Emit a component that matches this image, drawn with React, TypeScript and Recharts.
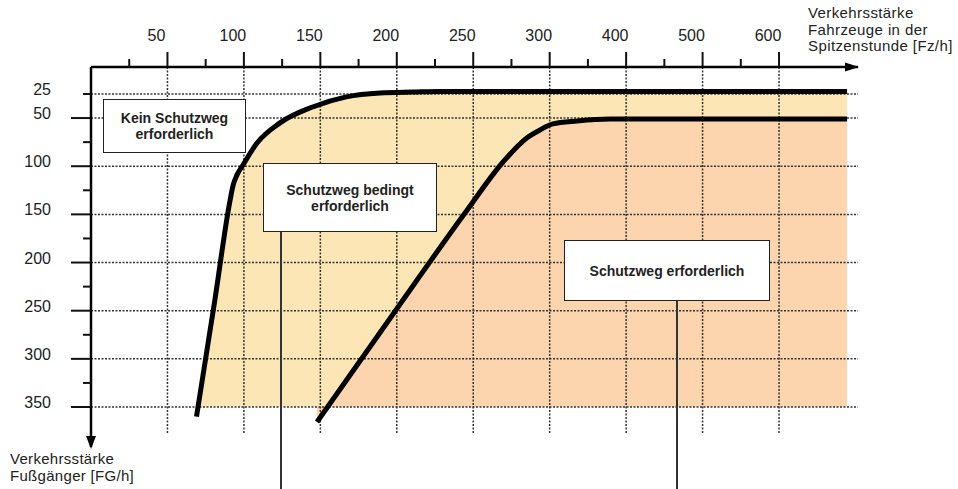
// Schutzweg-Diagramm: Einsatzgrenzen nach Fahrzeug- und Fußgängerverkehr (Recharts)
import { ComposedChart, Area, Line, XAxis, YAxis, ReferenceLine } from 'recharts';

// Achsbeschriftungen
const FZ_TICKS = [50, 100, 150, 200, 250, 300, 400, 500, 600];
const FZ_MINOR = [25, 75, 125, 175, 225, 275, 350, 450, 550];
const FG_TICKS = [25, 50, 75, 100, 125, 150, 175, 200, 225, 250, 275, 300, 325, 350];
const FG_GRID = [25, 50, 100, 150, 200, 250, 300, 350];

// Grenze "Kein Schutzweg" / "bedingt" (Fz/h, FG/h)
const grenze1Fz = [69, 81, 91, 93, 95.5, 99.4, 108.6, 123.6, 145, 167, 189, 211, 228, 689];
const grenze1Fg = [360, 239, 135, 119.5, 109, 98.7, 75.9, 55, 38.5, 28, 24, 23, 22.4, 22.4];

// Grenze "bedingt" / "erforderlich"
const grenze2Fz = [147.8, 196, 244.6, 269.5, 285, 293.6, 304, 336, 379, 689];
const grenze2Fg = [365.6, 257, 148.6, 95.6, 70.7, 62.4, 56, 53, 51, 51];

const FG_BASIS = 350;

// Fz-Achse ist gestückelt: bis 300 in 50er-Schritten, danach 100er
const toPos = (fz: number) => (fz <= 300 ? fz / 50 : 6 + (fz - 300) / 100);
const fromPos = (p: number) => (p <= 6 ? Math.round(p * 50) : Math.round(300 + (p - 6) * 100));

const X_MAX = 10.033;
const Y_MIN = -3;
const Y_MAX = 391.5;

const FONT = "'Liberation Sans', Arial, sans-serif";
const TEXT = '#222';
const GRID = '#333';

const build = (xs: number[], ys: number[]) =>
  xs.map((fz, i) => ({ p: toPos(fz), fg: ys[i], band: [ys[i], FG_BASIS] }));

const data1 = build(grenze1Fz, grenze1Fg);
const data2 = build(grenze2Fz, grenze2Fg);

const xTicks = [...FZ_TICKS, ...FZ_MINOR].map(toPos).sort((a, b) => a - b);

function XTick(props: any) {
  const { x, y, payload } = props;
  const major = Math.abs(payload.value - Math.round(payload.value)) < 0.01;
  return (
    <g>
      <line x1={x} x2={x} y1={y} y2={y - (major ? 15 : 8)} stroke="#111" strokeWidth={2} />
      {major && (
        <text x={x - 11} y={y - 26} textAnchor="middle" fontSize={16} fontFamily={FONT} fill={TEXT}>
          {fromPos(payload.value)}
        </text>
      )}
    </g>
  );
}

function YTick(props: any) {
  const { x, y, payload } = props;
  const v = payload.value;
  const major = v % 50 === 0;
  const showLabel = major || v === 25;
  return (
    <g>
      <line x1={x - (major ? 20 : 8)} x2={x} y1={y} y2={y} stroke="#111" strokeWidth={2} />
      {showLabel && (
        <text x={51} y={y + 1} textAnchor="end" fontSize={16} fontFamily={FONT} fill={TEXT}>
          {v}
        </text>
      )}
    </g>
  );
}

const boxStyle: React.CSSProperties = {
  position: 'absolute',
  boxSizing: 'border-box',
  background: '#fff',
  border: '1.5px solid #222',
  display: 'flex',
  alignItems: 'center',
  justifyContent: 'center',
  textAlign: 'center',
  fontFamily: FONT,
  fontWeight: 700,
  fontSize: 14,
  lineHeight: '16px',
  color: TEXT,
};

const leaderStyle: React.CSSProperties = {
  position: 'absolute',
  width: 1.5,
  background: '#333',
};

export default function App() {
  return (
    <div style={{ position: 'relative', width: 958, height: 489, background: '#fff', fontFamily: FONT }}>
      <style>{'body{margin:0}'}</style>
      <ComposedChart width={958} height={489} margin={{ top: 0, right: 100, bottom: 42, left: 0 }}>
        <XAxis
          dataKey="p"
          type="number"
          orientation="top"
          height={67}
          domain={[0, X_MAX]}
          allowDataOverflow
          ticks={xTicks}
          interval={0}
          tickSize={0}
          tickMargin={0}
          tickLine={false}
          tick={XTick}
          axisLine={{ stroke: '#000', strokeWidth: 2.5 }}
        />
        <YAxis
          dataKey="fg"
          type="number"
          width={91}
          reversed
          domain={[Y_MIN, Y_MAX]}
          allowDataOverflow
          ticks={FG_TICKS}
          interval={0}
          tickSize={0}
          tickMargin={0}
          tickLine={false}
          tick={YTick}
          axisLine={{ stroke: '#000', strokeWidth: 2.5 }}
        />
        <Area
          data={data1}
          dataKey="band"
          type="monotone"
          fill="#FDE6B6"
          fillOpacity={1}
          stroke="none"
          dot={false}
          activeDot={false}
          isAnimationActive={false}
        />
        <Area
          data={data2}
          dataKey="band"
          type="monotone"
          fill="#FCD5AE"
          fillOpacity={1}
          stroke="none"
          dot={false}
          activeDot={false}
          isAnimationActive={false}
        />
        {FG_GRID.map(v => (
          <ReferenceLine
            key={'h' + v}
            y={v}
            stroke={GRID}
            strokeWidth={1.5}
            strokeDasharray="2 1.5"
          />
        ))}
        {FZ_TICKS.map(fz => (
          <ReferenceLine
            key={'v' + fz}
            segment={[{ x: toPos(fz), y: Y_MIN }, { x: toPos(fz), y: 377 }]}
            stroke={GRID}
            strokeWidth={1.5}
            strokeDasharray="2 1.5"
          />
        ))}
        <Line
          data={data1}
          dataKey="fg"
          type="monotone"
          stroke="#000"
          strokeWidth={5}
          dot={false}
          activeDot={false}
          isAnimationActive={false}
        />
        <Line
          data={data2}
          dataKey="fg"
          type="monotone"
          stroke="#000"
          strokeWidth={5}
          dot={false}
          activeDot={false}
          isAnimationActive={false}
        />
      </ComposedChart>

      {/* Pfeilspitzen der Achsen */}
      <svg width={958} height={489} style={{ position: 'absolute', left: 0, top: 0, pointerEvents: 'none' }}>
        <polygon points="845,62.5 859,67 845,71.5" fill="#000" />
        <polygon points="86,436 91,449 96,436" fill="#000" />
      </svg>

      {/* Achstitel */}
      <div
        style={{
          position: 'absolute',
          left: 808,
          top: 5,
          fontSize: 15,
          lineHeight: '16.5px',
          color: TEXT,
          whiteSpace: 'nowrap',
          letterSpacing: 0.4,
        }}
      >
        Verkehrsstärke
        <br />
        Fahrzeuge in der
        <br />
        Spitzenstunde [Fz/h]
      </div>
      <div
        style={{
          position: 'absolute',
          left: 10,
          top: 450,
          fontSize: 15,
          lineHeight: '17px',
          color: TEXT,
          whiteSpace: 'nowrap',
          letterSpacing: 0.3,
        }}
      >
        Verkehrsstärke
        <br />
        Fußgänger [FG/h]
      </div>

      {/* Bereichsbeschriftungen mit Hinweislinien */}
      <div style={{ ...leaderStyle, left: 280, top: 231, height: 258 }} />
      <div style={{ ...leaderStyle, left: 676, top: 300, height: 189 }} />
      <div style={{ ...boxStyle, left: 103, top: 99, width: 143, height: 54 }}>
        Kein Schutzweg
        <br />
        erforderlich
      </div>
      <div style={{ ...boxStyle, left: 263, top: 163, width: 174, height: 69 }}>
        Schutzweg bedingt
        <br />
        erforderlich
      </div>
      <div style={{ ...boxStyle, left: 564, top: 240, width: 206, height: 61 }}>
        Schutzweg erforderlich
      </div>
    </div>
  );
}
